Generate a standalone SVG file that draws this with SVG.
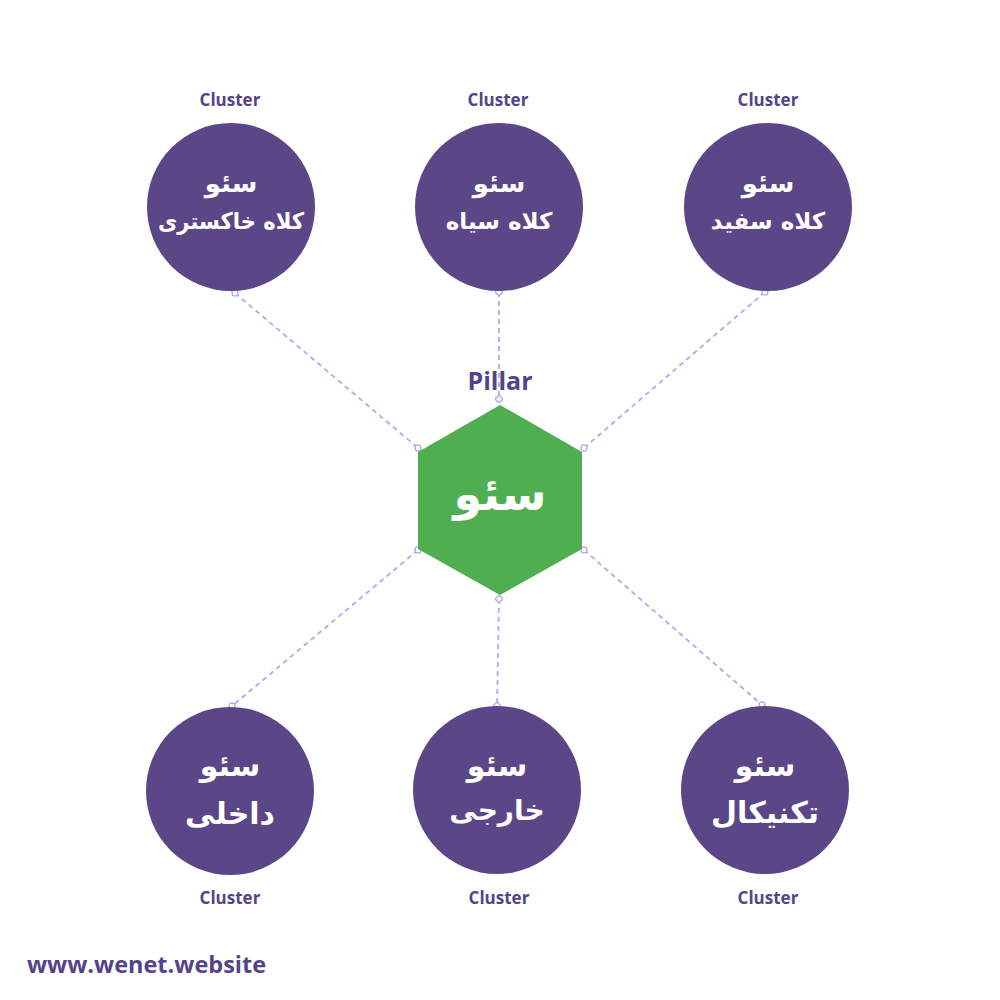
<svg xmlns="http://www.w3.org/2000/svg" width="1000" height="1000" viewBox="0 0 1000 1000">
<style>
.circ{fill:#5b4688}
.hex{fill:#4fae4f}
.lbl{font-family:"Open Sans","Liberation Sans",sans-serif;font-weight:700;fill:#54438a;text-anchor:middle}
.fa{font-family:"DejaVu Sans","Noto Sans",sans-serif;font-weight:700;fill:#ffffff;text-anchor:middle}
.con{stroke:#b1a9ef;stroke-width:1.8;stroke-dasharray:5 4;fill:none;marker-start:url(#sq);marker-end:url(#sq)}
</style>
<defs>
<marker id="sq" viewBox="0 0 10 10" refX="5" refY="5" markerWidth="8" markerHeight="8" markerUnits="userSpaceOnUse" orient="auto">
<rect x="1.5" y="1.5" width="7" height="7" fill="#ffffff" stroke="#b1a9ef" stroke-width="1.8" transform="rotate(45 5 5)"/>
</marker>
</defs>
<rect width="1000" height="1000" fill="#ffffff"/>
<g id="connectors">
<line class="con" x1="235" y1="293" x2="418" y2="448"/>
<line class="con" x1="499" y1="292" x2="499" y2="399"/>
<line class="con" x1="765" y1="292" x2="584" y2="448"/>
<line class="con" x1="418" y1="550" x2="232" y2="706"/>
<line class="con" x1="499" y1="599" x2="497" y2="706"/>
<line class="con" x1="584" y1="550" x2="762" y2="705"/>
</g>
<g id="pillar">
<text class="lbl" x="500" y="390" font-size="25">Pillar</text>
<polygon class="hex" points="500,405 582,452 582,549 500,595 418,549 418,452"/>
<text class="fa" x="500" y="510" font-size="46">سئو</text>
</g>
<g id="c1">
<text class="lbl" x="230" y="106" font-size="17">Cluster</text>
<circle class="circ" cx="231" cy="207" r="84"/>
<text class="fa" x="231" y="192" font-size="26">سئو</text>
<text class="fa" x="231" y="229" font-size="23" textLength="146" lengthAdjust="spacingAndGlyphs">کلاه خاکستری</text>
</g>
<g id="c2">
<text class="lbl" x="498" y="106" font-size="17">Cluster</text>
<circle class="circ" cx="499" cy="207" r="84"/>
<text class="fa" x="499" y="192" font-size="26">سئو</text>
<text class="fa" x="499" y="229" font-size="23">کلاه سیاه</text>
</g>
<g id="c3">
<text class="lbl" x="768" y="106" font-size="17">Cluster</text>
<circle class="circ" cx="768" cy="207" r="84"/>
<text class="fa" x="768" y="192" font-size="26">سئو</text>
<text class="fa" x="768" y="229" font-size="23">کلاه سفید</text>
</g>
<g id="c4">
<circle class="circ" cx="230" cy="791" r="84"/>
<text class="fa" x="230" y="776" font-size="30">سئو</text>
<text class="fa" x="230" y="824" font-size="30">داخلی</text>
<text class="lbl" x="230" y="904" font-size="17">Cluster</text>
</g>
<g id="c5">
<circle class="circ" cx="497" cy="790" r="84"/>
<text class="fa" x="497" y="776" font-size="30">سئو</text>
<text class="fa" x="497" y="820" font-size="28">خارجی</text>
<text class="lbl" x="499" y="904" font-size="17">Cluster</text>
</g>
<g id="c6">
<circle class="circ" cx="765" cy="790" r="84"/>
<text class="fa" x="765" y="776" font-size="30">سئو</text>
<text class="fa" x="765" y="823" font-size="30">تکنیکال</text>
<text class="lbl" x="768" y="904" font-size="17">Cluster</text>
</g>
<text class="lbl" x="27" y="973" font-size="23.5" style="text-anchor:start">www.wenet.website</text>
</svg>
